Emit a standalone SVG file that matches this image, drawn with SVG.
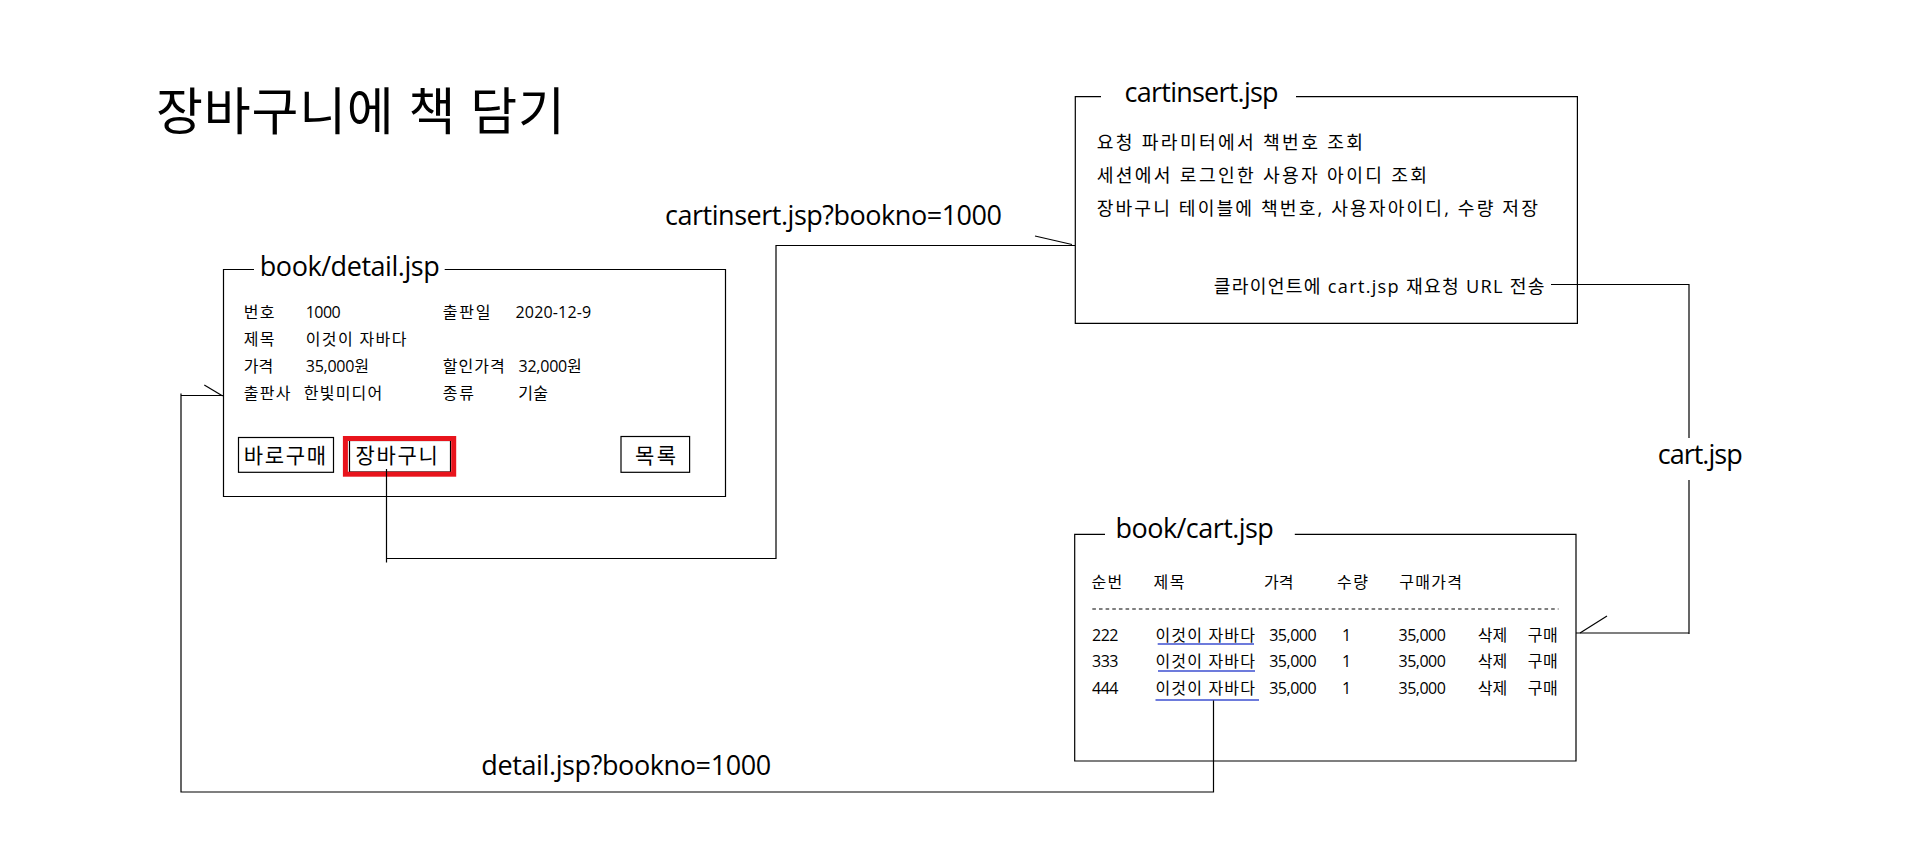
<svg xmlns="http://www.w3.org/2000/svg" width="1905" height="861" viewBox="0 0 1905 861">
<style>
text{font-family:"Open Sans","Noto Sans CJK KR",sans-serif;fill:#000}
.box{fill:none;stroke:#000;stroke-width:1.2}
.ln{fill:none;stroke:#000;stroke-width:1.2}
.ttl{font-size:51px}
.hd{font-size:27px}
.sm{font-size:16px}
.md{font-size:18.2px}
.bt{font-size:21px}
.lbl{font-size:27px}
.ul{stroke:#3d4fd0;stroke-width:1.5}
</style>
<rect width="1905" height="861" fill="#fff"/>
<text class="ttl" x="156" y="130" textLength="409">장바구니에 책 담기</text>

<g id="detail">
<path class="box" d="M254,269.5 H223.5 V496.5 H725.5 V269.5 H444.7"/>
<text class="hd" x="259.8" y="276" textLength="180">book/detail.jsp</text>
<text class="sm" x="243.8" y="318" textLength="30.6">번호</text>
<text class="sm" x="305.8" y="318" textLength="34.8">1000</text>
<text class="sm" x="442.8" y="318" textLength="47.8">출판일</text>
<text class="sm" x="515.5" y="318" textLength="75.7">2020-12-9</text>
<text class="sm" x="243.8" y="345" textLength="30.6">제목</text>
<text class="sm" x="305.8" y="345" textLength="100.6">이것이 자바다</text>
<text class="sm" x="243.8" y="372" textLength="29.4">가격</text>
<text class="sm" x="305.8" y="372" textLength="63.1">35,000원</text>
<text class="sm" x="442.8" y="372" textLength="62">할인가격</text>
<text class="sm" x="518.5" y="372" textLength="63.2">32,000원</text>
<text class="sm" x="243.8" y="399" textLength="46.7">출판사</text>
<text class="sm" x="303.8" y="399" textLength="78.5">한빛미디어</text>
<text class="sm" x="442.8" y="399" textLength="31.3">종류</text>
<text class="sm" x="518.2" y="399" textLength="29.8">기술</text>
<rect class="box" x="238.5" y="437.5" width="95" height="34.8"/>
<text class="bt" x="243.8" y="463" textLength="82.2">바로구매</text>
<rect class="box" x="349.5" y="440.5" width="101" height="31.5"/>
<rect x="345.4" y="438.5" width="108.3" height="35.7" fill="none" stroke="#e8141c" stroke-width="5"/>
<text class="bt" x="355.5" y="462.5" textLength="82.3">장바구니</text>
<rect class="box" x="621" y="436.5" width="68.6" height="35.8"/>
<text class="bt" x="635" y="462.5" textLength="41">목록</text>
</g>

<g id="cartinsert">
<path class="box" d="M1101,96.7 H1075.3 V323.3 H1577.4 V96.7 H1296"/>
<text class="hd" x="1124.6" y="101.7" textLength="154">cartinsert.jsp</text>
<text class="md" x="1096.7" y="148.5" textLength="266.3">요청 파라미터에서 책번호 조회</text>
<text class="md" x="1096.7" y="181.5" textLength="330.3">세션에서 로그인한 사용자 아이디 조회</text>
<text class="md" x="1096.7" y="215" textLength="441.2">장바구니 테이블에 책번호, 사용자아이디, 수량 저장</text>
<text class="md" x="1213.8" y="292.5" textLength="330.7">클라이언트에 cart.jsp 재요청 URL 전송</text>
</g>

<g id="cart">
<path class="box" d="M1105,534.3 H1074.7 V761 H1576 V534.3 H1294.8"/>
<text class="hd" x="1115.6" y="538.3" textLength="158.2">book/cart.jsp</text>
<text class="sm" x="1091.6" y="587.5" textLength="30.7">순번</text>
<text class="sm" x="1153.4" y="587.5" textLength="31.2">제목</text>
<text class="sm" x="1264" y="587.5" textLength="29.6">가격</text>
<text class="sm" x="1337" y="587.5" textLength="31">수량</text>
<text class="sm" x="1399.2" y="587.5" textLength="62.8">구매가격</text>
<line x1="1092.3" y1="609" x2="1558.5" y2="609" stroke="#000" stroke-width="1.2" stroke-dasharray="3.6 3.05"/>
<g>
<text class="sm" x="1092" y="640.5" textLength="26.5">222</text>
<text class="sm" x="1155.5" y="640.5" textLength="99.4">이것이 자바다</text>
<text class="sm" x="1269.2" y="640.5" textLength="47.5">35,000</text>
<text class="sm" x="1342" y="640.5">1</text>
<text class="sm" x="1398.5" y="640.5" textLength="47.3">35,000</text>
<text class="sm" x="1477.8" y="640.5" textLength="29.4">삭제</text>
<text class="sm" x="1527.8" y="640.5" textLength="30">구매</text>
<text class="sm" x="1092" y="667" textLength="26.5">333</text>
<text class="sm" x="1155.5" y="667" textLength="99.4">이것이 자바다</text>
<text class="sm" x="1269.2" y="667" textLength="47.5">35,000</text>
<text class="sm" x="1342" y="667">1</text>
<text class="sm" x="1398.5" y="667" textLength="47.3">35,000</text>
<text class="sm" x="1477.8" y="667" textLength="29.4">삭제</text>
<text class="sm" x="1527.8" y="667" textLength="30">구매</text>
<text class="sm" x="1092" y="694" textLength="26.5">444</text>
<text class="sm" x="1155.5" y="694" textLength="99.4">이것이 자바다</text>
<text class="sm" x="1269.2" y="694" textLength="47.5">35,000</text>
<text class="sm" x="1342" y="694">1</text>
<text class="sm" x="1398.5" y="694" textLength="47.3">35,000</text>
<text class="sm" x="1477.8" y="694" textLength="29.4">삭제</text>
<text class="sm" x="1527.8" y="694" textLength="30">구매</text>
</g>
<line class="ul" x1="1157.7" y1="644" x2="1254" y2="644"/>
<line class="ul" x1="1158" y1="671" x2="1255" y2="671"/>
<line class="ul" x1="1155.5" y1="700" x2="1259" y2="700"/>
</g>

<g id="connectors">
<path class="ln" d="M386.5,469 V562.5 M386.5,558.5 H776 V245.5 H1075"/>
<line class="ln" x1="1035" y1="236" x2="1072" y2="244.5"/>
<text class="lbl" x="665" y="225" textLength="337">cartinsert.jsp?bookno=1000</text>

<path class="ln" d="M1551,284.5 H1689 V438 M1689,480 V634 M1689,633 H1576"/>
<line class="ln" x1="1580" y1="633" x2="1607" y2="616"/>
<text class="lbl" x="1657.7" y="464" textLength="85">cart.jsp</text>

<path class="ln" d="M1213.5,700.5 V792 H181 V393.5 M181,395.5 H223.5"/>
<line class="ln" x1="204.3" y1="385" x2="222.7" y2="396"/>
<text class="lbl" x="481.3" y="775" textLength="290">detail.jsp?bookno=1000</text>
</g>
</svg>
